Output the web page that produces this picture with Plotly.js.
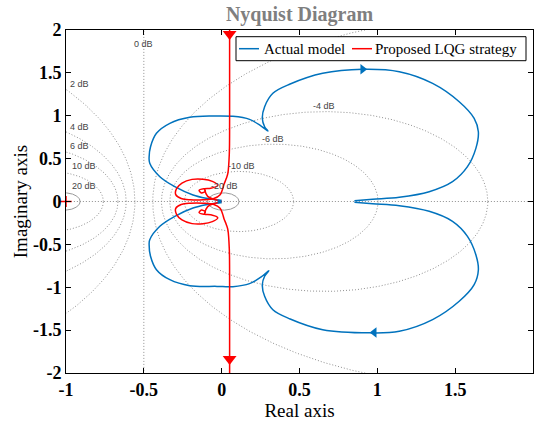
<!DOCTYPE html>
<html>
<head>
<meta charset="utf-8">
<script src="https://cdn.plot.ly/plotly-3.0.1.min.js"></script>
<style>html,body{margin:0;padding:0;background:#fff;}#chart{width:537px;height:421px;}</style>
</head>
<body>
<div id="chart"></div>
<script>
// ---- Data ----
// Actual model: upper branch (from origin to the low-frequency point)
const blueUpX = [-0.013, -0.098, -0.184, -0.301, -0.397, -0.462, -0.466, -0.457, -0.419, -0.333, -0.205, -0.056, 0.072, 0.179, 0.254, 0.297, 0.276, 0.261, 0.276, 0.329, 0.44, 0.649, 0.906, 1.141, 1.355, 1.526, 1.622, 1.649, 1.633, 1.579, 1.483, 1.333, 1.141, 0.970, 0.853];
const blueUpY = [0.014, 0.037, 0.076, 0.173, 0.289, 0.445, 0.523, 0.639, 0.795, 0.912, 0.982, 0.997, 0.993, 0.958, 0.88, 0.822, 0.872, 0.97, 1.106, 1.262, 1.37, 1.495, 1.542, 1.514, 1.378, 1.164, 0.970, 0.814, 0.620, 0.406, 0.231, 0.114, 0.049, 0.026, 0.009];
// Actual model: lower branch (from the low-frequency point back to origin)
const blueLoX = [0.853, 0.970, 1.141, 1.333, 1.483, 1.579, 1.633, 1.649, 1.622, 1.526, 1.355, 1.141, 0.95, 0.649, 0.44, 0.329, 0.276, 0.261, 0.276, 0.303, 0.254, 0.179, 0.072, -0.03, -0.205, -0.333, -0.419, -0.457, -0.466, -0.462, -0.397, -0.301, -0.184, -0.098, -0.013];
const blueLoY = [-0.009, -0.026, -0.049, -0.114, -0.231, -0.406, -0.620, -0.799, -0.970, -1.164, -1.378, -1.514, -1.532, -1.495, -1.37, -1.262, -1.106, -0.97, -0.872, -0.807, -0.88, -0.958, -0.993, -0.99, -0.982, -0.912, -0.795, -0.639, -0.5, -0.445, -0.289, -0.173, -0.076, -0.037, -0.014];
// Proposed LQG strategy: upper branch (from +j infinity to origin)
const redUpX = [0.051, 0.051, 0.049, 0.04, 0.03, 0.015, 0.005, -0.01, -0.05, -0.12, -0.2, -0.26, -0.295, -0.29, -0.255, -0.19, -0.12, -0.06, -0.025, -0.07, -0.11, -0.145, -0.13, -0.105, -0.11, -0.09, -0.04, 0.0];
const redUpY = [2.5, 1.0, 0.55, 0.33, 0.27, 0.2, 0.14, 0.08, 0.035, 0.02, 0.02, 0.035, 0.08, 0.15, 0.215, 0.258, 0.26, 0.235, 0.19, 0.155, 0.15, 0.13, 0.1, 0.12, 0.14, 0.06, 0.02, 0.0];
// Proposed LQG strategy: lower branch (from origin to -j infinity)
const redLoX = [0.0, -0.04, -0.09, -0.11, -0.105, -0.13, -0.145, -0.11, -0.07, -0.025, -0.06, -0.12, -0.19, -0.255, -0.29, -0.295, -0.26, -0.2, -0.12, -0.05, -0.01, 0.005, 0.015, 0.03, 0.04, 0.049, 0.051, 0.051];
const redLoY = [0.0, -0.02, -0.06, -0.14, -0.12, -0.1, -0.13, -0.15, -0.155, -0.19, -0.235, -0.26, -0.258, -0.215, -0.15, -0.08, -0.035, -0.02, -0.02, -0.035, -0.08, -0.14, -0.2, -0.27, -0.33, -0.55, -1.0, -2.5];
// Direction arrows
const blueArrowX = [0.906, 0.98];
const blueArrowY = [1.542, -1.527];
const redArrowX = [0.051, 0.051];
const redArrowY = [1.953, -1.837];
// Grid (M-circles) in dB and tick labels
const gridDb = [-20, -10, -6, -4, -2, 0, 2, 4, 6, 10, 20];
const xTicks = [-1, -0.5, 0, 0.5, 1, 1.5, 2];
const xTickText = ['-1', '-0.5', '0', '0.5', '1', '1.5', '2'];
const yTicks = [-2, -1.5, -1, -0.5, 0, 0.5, 1, 1.5, 2];
const yTickText = ['-2', '-1.5', '-1', '-0.5', '0', '0.5', '1', '1.5', '2'];
const seriesNames = ['Actual model', 'Proposed LQG strategy'];
const gridLabels = [
  {t: '0 dB', x: -0.5, y: 1.835, a: 'center'},
  {t: '2 dB', x: -0.985, y: 1.37, a: 'left'},
  {t: '4 dB', x: -0.985, y: 0.87, a: 'left'},
  {t: '6 dB', x: -0.985, y: 0.65, a: 'left'},
  {t: '10 dB', x: -0.975, y: 0.41, a: 'left'},
  {t: '20 dB', x: -0.975, y: 0.18, a: 'left'},
  {t: '-4 dB', x: 0.66, y: 1.11, a: 'center'},
  {t: '-6 dB', x: 0.33, y: 0.73, a: 'center'},
  {t: '-10 dB', x: 0.125, y: 0.41, a: 'center'},
  {t: '-20 dB', x: 0.02, y: 0.18, a: 'center'}
];

// ---- Build traces ----
const traces = [];
const gridColor = '#8f8f8f';
gridDb.forEach(db => {
  if (db === 0) {
    traces.push({x: [-0.5, -0.5], y: [-2.5, 2.5], mode: 'lines', hoverinfo: 'skip', showlegend: false,
      line: {color: gridColor, width: 1, dash: '1px,2px'}});
    return;
  }
  const M = Math.pow(10, db / 20);
  const c = -M * M / (M * M - 1);
  const r = Math.abs(M / (M * M - 1));
  const xs = [], ys = [];
  for (let i = 0; i <= 720; i++) {
    const t = i / 720 * 2 * Math.PI;
    xs.push(c + r * Math.cos(t));
    ys.push(r * Math.sin(t));
  }
  const solid = Math.abs(db) === 20;
  traces.push({x: xs, y: ys, mode: 'lines', hoverinfo: 'skip', showlegend: false,
    line: {color: solid ? '#9a9a9a' : gridColor, width: 1, dash: solid ? 'solid' : '1px,2px'}});
});
traces.push({x: [-1.2, 2.2], y: [0, 0], mode: 'lines', hoverinfo: 'skip', showlegend: false,
  line: {color: gridColor, width: 1, dash: '1px,2px'}});

const blue = '#0072BD', red = '#FF0000';
traces.push({x: blueUpX, y: blueUpY, mode: 'lines', name: seriesNames[0], showlegend: false,
  line: {color: blue, width: 1.5, shape: 'spline', smoothing: 1}});
traces.push({x: blueLoX, y: blueLoY, mode: 'lines', name: seriesNames[0], showlegend: false,
  line: {color: blue, width: 1.5, shape: 'spline', smoothing: 1}});
traces.push({x: redUpX, y: redUpY, mode: 'lines', name: seriesNames[1], showlegend: false,
  line: {color: red, width: 1.5, shape: 'spline', smoothing: 1}});
traces.push({x: redLoX, y: redLoY, mode: 'lines', name: seriesNames[1], showlegend: false,
  line: {color: red, width: 1.5, shape: 'spline', smoothing: 1}});
traces.push({x: [blueArrowX[0]], y: [blueArrowY[0]], mode: 'markers', showlegend: false, hoverinfo: 'skip',
  marker: {symbol: 'triangle-right', size: 9, color: blue}});
traces.push({x: [blueArrowX[1]], y: [blueArrowY[1]], mode: 'markers', showlegend: false, hoverinfo: 'skip',
  marker: {symbol: 'triangle-left', size: 9, color: blue}});
traces.push({x: redArrowX, y: redArrowY, mode: 'markers', showlegend: false, hoverinfo: 'skip',
  marker: {symbol: 'triangle-down', size: 12, color: red}});
traces.push({x: [-1], y: [0], mode: 'markers', showlegend: false, hoverinfo: 'skip', cliponaxis: false,
  marker: {symbol: 'cross-thin', size: 8, color: red, line: {color: red, width: 1.5}}});
traces.push({x: [blueUpX[0]], y: [0], mode: 'markers', showlegend: false, hoverinfo: 'skip',
  marker: {symbol: 'square', size: 4, color: blue}});

const serif = 'Liberation Serif, Times New Roman, serif';
const annotations = gridLabels.map(g => ({
  x: g.x, y: g.y, xref: 'x', yref: 'y', text: g.t, showarrow: false, xanchor: g.a, yanchor: 'middle',
  font: {family: 'Liberation Sans, Arial, sans-serif', size: 9, color: '#444'}
}));
// Legend box (shapes + text, matching the compact original legend)
const lgTop = (373 - 36.7) / 343, lgBot = (373 - 60.7) / 343, lgMid = (373 - 48.7) / 343;
const px = v => (v - 66) / 467;
const shapes = [
  {type: 'rect', xref: 'paper', yref: 'paper', x0: px(236), x1: px(526), y0: lgBot, y1: lgTop,
    line: {color: '#000', width: 1}, fillcolor: '#fff', layer: 'above'},
  {type: 'line', xref: 'paper', yref: 'paper', x0: px(239), x1: px(259), y0: lgMid, y1: lgMid,
    line: {color: blue, width: 1.5}, layer: 'above'},
  {type: 'line', xref: 'paper', yref: 'paper', x0: px(352), x1: px(372), y0: lgMid, y1: lgMid,
    line: {color: red, width: 1.5}, layer: 'above'}
];
annotations.push({x: px(262), y: lgMid, xref: 'paper', yref: 'paper', text: seriesNames[0], showarrow: false,
  xanchor: 'left', yanchor: 'middle', font: {family: serif, size: 15, color: '#000'}});
annotations.push({x: px(373), y: lgMid, xref: 'paper', yref: 'paper', text: seriesNames[1], showarrow: false,
  xanchor: 'left', yanchor: 'middle', font: {family: serif, size: 15, color: '#000'}});

const axisCommon = {
  showgrid: false, zeroline: false, showline: true, linecolor: '#000', linewidth: 1,
  mirror: 'ticks', ticks: 'inside', ticklen: 5, tickcolor: '#000', tickwidth: 1,
  tickfont: {family: serif, size: 18, color: '#000', weight: 'bold'},
  tickmode: 'array'
};

const layout = {
  width: 537, height: 421,
  margin: {l: 66, r: 4, t: 30, b: 48},
  paper_bgcolor: '#fff', plot_bgcolor: '#fff',
  title: {text: '<b>Nyquist Diagram</b>', x: 0.5, xref: 'paper', y: 1 - 14 / 421, yanchor: 'middle',
    font: {family: serif, size: 20, color: '#7f7f7f'}},
  xaxis: Object.assign({}, axisCommon, {range: [-1, 2], tickvals: xTicks, ticktext: xTickText,
    title: {text: 'Real axis', standoff: 3, font: {family: serif, size: 19, color: '#000'}}}),
  yaxis: Object.assign({}, axisCommon, {range: [-2, 2], tickvals: yTicks, ticktext: yTickText,
    title: {text: 'Imaginary axis', standoff: 0, font: {family: serif, size: 19, color: '#000'}}}),
  annotations: annotations,
  shapes: shapes,
  showlegend: false
};

Plotly.newPlot('chart', traces, layout, {staticPlot: true, displayModeBar: false});
</script>
</body>
</html>
